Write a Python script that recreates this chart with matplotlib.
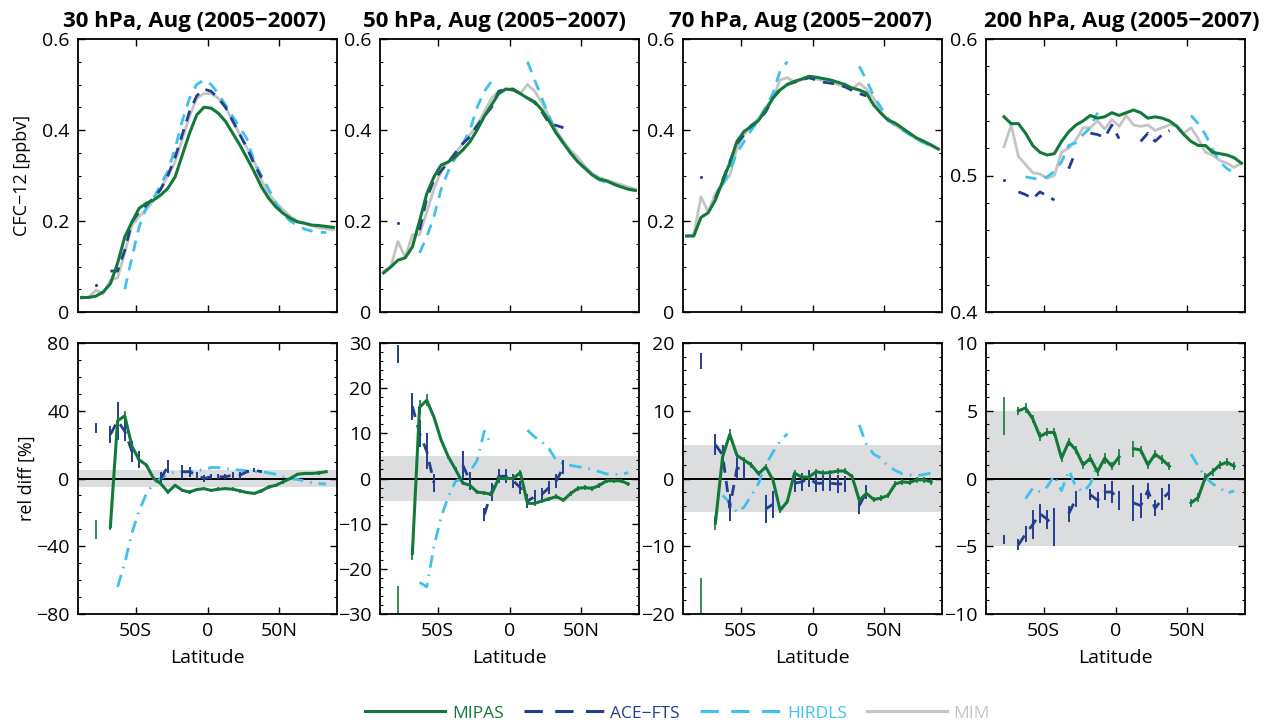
import numpy as np
import matplotlib
matplotlib.use("Agg")
import matplotlib.pyplot as plt
from matplotlib.lines import Line2D
from matplotlib.ticker import AutoMinorLocator

nan = np.nan

# latitude bin centres (deg)
lat = np.arange(-87.5, 90, 5.0)

pressures = [30, 50, 70, 200]

# ---- CFC-12 [ppbv], top row ----
mipas_30 = [0.032, 0.032, 0.035, 0.044, 0.062, 0.107, 0.165, 0.198, 0.228, 0.239, 0.246, 0.257, 0.272, 0.297, 0.345, 0.393, 0.433, 0.450,
            0.448, 0.437, 0.419, 0.393, 0.367, 0.338, 0.308, 0.275, 0.250, 0.231, 0.217, 0.206, 0.198, 0.195, 0.191, 0.190, 0.188, 0.186]
mim_30 = [0.030, 0.033, 0.048, 0.040, 0.070, 0.075, 0.130, 0.190, 0.210, 0.225, 0.245, 0.270, 0.300, 0.330, 0.380, 0.430, 0.470, 0.480,
          0.480, 0.470, 0.450, 0.420, 0.390, 0.360, 0.330, 0.290, 0.260, 0.240, 0.225, 0.210, 0.200, 0.195, 0.190, 0.185, 0.183, 0.180]
ace_30 = [nan, nan, 0.060, nan, 0.090, 0.090, 0.136, 0.198, 0.220, 0.235, 0.250, 0.270, 0.300, 0.340, 0.390, 0.440, 0.475, 0.490,
          0.485, 0.470, 0.450, 0.420, 0.390, 0.360, 0.325, 0.295, nan, nan, nan, nan, nan, nan, nan, nan, nan, nan]
hirdls_30 = [nan, nan, nan, nan, nan, nan, 0.050, 0.120, 0.187, 0.230, 0.250, 0.280, 0.310, 0.360, 0.420, 0.470, 0.500, 0.510,
             0.500, 0.480, 0.455, 0.430, 0.405, 0.380, 0.330, 0.300, 0.270, 0.240, 0.215, 0.200, 0.190, 0.182, 0.178, 0.175, 0.175, nan]

mipas_50 = [0.086, 0.099, 0.114, 0.119, 0.143, 0.200, 0.260, 0.297, 0.323, 0.330, 0.341, 0.356, 0.374, 0.400, 0.430, 0.455, 0.480, 0.490,
            0.488, 0.480, 0.470, 0.462, 0.444, 0.420, 0.393, 0.371, 0.349, 0.330, 0.316, 0.301, 0.292, 0.288, 0.281, 0.275, 0.270, 0.267]
mim_50 = [0.090, 0.100, 0.155, 0.120, 0.170, 0.170, 0.220, 0.270, 0.310, 0.330, 0.350, 0.370, 0.390, 0.410, 0.440, 0.470, 0.485, 0.490,
          0.490, 0.480, 0.500, 0.485, 0.460, 0.430, 0.400, 0.375, 0.355, 0.340, 0.320, 0.305, 0.295, 0.290, 0.285, 0.280, 0.275, 0.270]
ace_50 = [nan, nan, 0.195, nan, nan, 0.180, 0.250, 0.290, 0.310, 0.330, 0.350, 0.370, 0.385, 0.410, 0.430, 0.450, 0.485, 0.490,
          0.490, 0.480, 0.470, 0.460, 0.440, 0.415, 0.410, 0.405, nan, nan, nan, nan, nan, nan, nan, nan, nan, nan]
hirdls_50 = [nan, nan, nan, nan, nan, 0.130, 0.165, 0.210, 0.270, 0.310, 0.340, 0.370, 0.400, 0.450, 0.485, 0.507, nan, nan,
             nan, nan, 0.550, 0.510, 0.470, 0.430, 0.395, 0.370, 0.350, 0.330, 0.315, 0.300, 0.290, 0.285, 0.280, 0.276, 0.270, nan]

mipas_70 = [0.167, 0.167, 0.208, 0.218, 0.246, 0.287, 0.327, 0.375, 0.397, 0.408, 0.421, 0.444, 0.470, 0.488, 0.500, 0.507, 0.512, 0.518,
            0.516, 0.513, 0.510, 0.505, 0.500, 0.492, 0.488, 0.481, 0.455, 0.437, 0.422, 0.415, 0.404, 0.393, 0.382, 0.375, 0.367, 0.358]
mim_70 = [0.167, 0.170, 0.253, 0.220, 0.260, 0.280, 0.300, 0.360, 0.390, 0.410, 0.425, 0.450, 0.470, 0.510, 0.515, 0.505, 0.510, 0.515,
          0.512, 0.508, 0.505, 0.500, 0.495, 0.490, 0.503, 0.490, 0.470, 0.440, 0.420, 0.410, 0.400, 0.390, 0.380, 0.372, 0.365, 0.358]
ace_70 = [nan, nan, 0.297, nan, 0.250, 0.290, 0.330, 0.370, 0.390, 0.410, 0.420, 0.440, 0.470, 0.490, 0.500, 0.505, 0.510, 0.515,
          0.510, 0.505, 0.503, 0.500, 0.495, 0.487, 0.480, 0.475, nan, nan, nan, nan, nan, nan, nan, nan, nan, nan]
hirdls_70 = [nan, nan, nan, nan, nan, 0.280, 0.310, 0.350, 0.375, 0.400, 0.420, 0.450, 0.480, 0.530, 0.550, nan, nan, nan,
             nan, nan, nan, nan, nan, nan, 0.540, 0.510, 0.475, 0.450, 0.425, 0.410, 0.400, 0.390, 0.380, 0.372, 0.365, nan]

mipas_200 = [nan, nan, 0.543, 0.538, 0.538, 0.531, 0.522, 0.517, 0.515, 0.516, 0.525, 0.532, 0.537, 0.540, 0.544, 0.542, 0.543, 0.546,
             0.544, 0.546, 0.548, 0.546, 0.542, 0.543, 0.542, 0.540, 0.536, 0.530, 0.525, 0.522, 0.522, 0.517, 0.516, 0.515, 0.513, 0.509]
mim_200 = [nan, nan, 0.521, 0.537, 0.514, 0.508, 0.502, 0.501, 0.498, 0.500, 0.517, 0.520, 0.526, 0.535, 0.535, 0.540, 0.534, 0.541,
           0.536, 0.544, 0.537, 0.536, 0.537, 0.533, 0.535, 0.537, 0.537, 0.531, 0.535, 0.527, 0.517, 0.515, 0.511, 0.509, 0.506, 0.509]
ace_200 = [nan, nan, 0.497, nan, 0.488, 0.486, 0.483, 0.488, 0.485, 0.482, nan, 0.505, 0.518, nan, 0.531, 0.530, 0.528, 0.537,
           0.527, nan, nan, 0.525, 0.531, 0.525, 0.530, 0.533, nan, nan, nan, nan, nan, nan, nan, nan, nan, nan]
hirdls_200 = [nan, nan, nan, nan, nan, 0.499, 0.498, 0.497, 0.499, 0.503, 0.510, 0.522, 0.524, 0.530, 0.535, 0.546, nan, nan,
              nan, nan, nan, nan, nan, nan, nan, nan, nan, nan, 0.544, 0.538, 0.530, 0.519, 0.510, 0.505, 0.502, nan]

# ---- relative differences [%], bottom row ----
rel_mipas_30 = [nan, nan, -30, nan, -28.5, 34, 37, 19, 11, 8, 0, -3, -8, -4, -7, -8, -6.5, -6,
                -7, -6.3, -6, -6.3, -7.3, -8.3, -8.8, -7.3, -5, -4, -2, 0, 2.5, 3, 3, 3.3, 4, nan]
err_mipas_30 = [nan, nan, 5.5, nan, 2, 3, 3, 1.5, 1, 1, 1, 1, 1, 1, 1, 1, 1, 1,
                1, 1, 1, 1, 1, 1, 1, 1, 1, 1, 1, 1, 1, 1, 1, 1, 1, nan]
rel_ace_30 = [nan, nan, 30, nan, 26, 34, 28, 16, 11, nan, nan, 0, 7, nan, 4, 4, 2, 0,
              1, 1, 1, 2, 2, 4, 5, 4, nan, nan, nan, nan, nan, nan, nan, nan, nan, nan]
err_ace_30 = [nan, nan, 3, nan, 5, 11, 6, 6, 5, nan, nan, 4, 4, nan, 4, 3, 2, 2,
              1.5, 1.5, 1.5, 2, 2, 1, 1, 1, nan, nan, nan, nan, nan, nan, nan, nan, nan, nan]
rel_hirdls_30 = [nan, nan, nan, nan, nan, -64, -50, -32, -19, -9, -3, 0, 2.5, 4, 4, 4, 5, 5,
                 6.5, 6.5, 6, 5.3, 5, 4.5, 4, 4, 3.3, 2.5, 1, 0, -0.6, -1.4, -2.5, -3, -3.3, nan]

rel_mipas_50 = [nan, nan, -27.3, nan, -16.6, 15.8, 17.3, 13.6, 8.5, 4.8, 2, -1, -1.5, -3, -3.2, -3.5, 0, 0,
                0, 1.3, -5.5, -5.5, -5, -4.5, -4, -4.8, -3.3, -2.2, -2, -2.2, -1.5, -0.5, -0.5, -0.5, -1.2, nan]
err_mipas_50 = [nan, nan, 3.5, nan, 1.5, 1.5, 1.3, 0.5, 0.5, 0.5, 0.5, 0.5, 0.5, 0.5, 0.5, 0.5, 0.5, 0.5,
                0.5, 0.5, 0.5, 0.5, 0.5, 0.5, 0.5, 0.5, 0.5, 0.5, 0.5, 0.5, 0.5, 0.5, 0.5, 0.5, 0.5, nan]
rel_ace_50 = [nan, nan, 27.5, nan, 16, 10, 6, -1, nan, nan, nan, 3, -0.5, nan, -8, -3, 0.5, 0.5,
              -0.5, -2, -5, -4, -3.5, -2, -0.5, 2.5, nan, nan, nan, nan, nan, nan, nan, nan, nan, nan]
err_ace_50 = [nan, nan, 2, nan, 3, 3, 4, 2, nan, nan, nan, 3, 2, nan, 1.5, 2, 1.5, 1.5,
              1.5, 1.5, 1.5, 1.5, 1.5, 1.5, 1.5, 1.5, nan, nan, nan, nan, nan, nan, nan, nan, nan, nan]
rel_hirdls_50 = [nan, nan, nan, nan, nan, -23, -24, -15, -8.5, -4, -0.6, 0, 1.5, 4, 10.5, 7.4, nan, nan,
                 nan, nan, 10.7, 9.2, 8.1, 6.6, 4, 3.3, 2.9, 2.6, 2.4, 2, 1.5, 1, 0.9, 0.9, 1.3, nan]

rel_mipas_70 = [nan, nan, -17.7, nan, -6.6, 3.2, 6.5, 3.4, 2.7, 2, 0.7, 1.7, -0.2, -4.7, -3.4, 0.8, 0.2, 0.2,
                1, 0.8, 0.9, 1.1, 1.1, 0.3, -3.2, -2.2, -3.1, -2.9, -2.5, -0.8, -0.5, -0.6, -0.2, -0.2, -0.5, nan]
err_mipas_70 = [nan, nan, 3, nan, 1, 0.8, 0.8, 0.4, 0.4, 0.4, 0.4, 0.4, 0.4, 0.4, 0.4, 0.4, 0.4, 0.4,
                0.4, 0.4, 0.4, 0.4, 0.4, 0.4, 0.4, 0.4, 0.4, 0.4, 0.4, 0.4, 0.4, 0.4, 0.4, 0.4, 0.4, nan]
rel_ace_70 = [nan, nan, 17.3, nan, 5, 3.5, -4.3, 1.5, 1.5, nan, nan, -4.5, -3.8, nan, nan, -0.7, -0.5, 0,
              -0.7, -0.7, -0.7, -0.8, -0.8, nan, -4, -2, nan, nan, nan, nan, nan, nan, nan, nan, nan, nan]
err_ace_70 = [nan, nan, 1.2, nan, 1.5, 1.5, 2, 1.5, 1.5, nan, nan, 2, 2, nan, nan, 1.3, 1.3, 1.2,
              1.3, 1.2, 1.2, 1.3, 1.2, nan, 1.2, 1, nan, nan, nan, nan, nan, nan, nan, nan, nan, nan]
rel_hirdls_70 = [nan, nan, nan, nan, nan, -2.5, -3.5, -5, -4.2, -2.5, -0.7, 2, 3.9, 5.5, 6.6, nan, nan, nan,
                 nan, nan, nan, nan, nan, nan, 7.9, 5, 3.6, 3, 1.8, 1.2, 0.7, 0.5, 0.4, 0.6, 0.8, nan]

rel_mipas_200 = [nan, nan, 4.6, nan, 5.0, 5.2, 4.4, 3.1, 3.4, 3.4, 1.5, 2.7, 2.1, 1.0, 1.5, 0.5, 1.5, 0.9,
                 1.6, nan, 2.2, 2.1, 1.0, 1.8, 1.4, 0.9, nan, nan, -1.8, -1.4, 0.1, 0.5, 1.0, 1.2, 0.9, nan]
err_mipas_200 = [nan, nan, 1.4, nan, 0.3, 0.4, 0.3, 0.3, 0.3, 0.3, 0.3, 0.3, 0.3, 0.3, 0.3, 0.3, 0.4, 0.3,
                 0.6, nan, 0.6, 0.3, 0.3, 0.3, 0.3, 0.3, nan, nan, 0.3, 0.3, 0.3, 0.3, 0.3, 0.3, 0.3, nan]
rel_ace_200 = [nan, nan, -4.5, nan, -4.9, -4.1, -3.4, -2.6, -3.0, -3.6, nan, -2.6, -1.5, nan, -1.2, -1.6, -1.0, -1.0,
               -1.6, nan, -1.8, -2.0, -0.9, -2.2, -1.5, -1.0, nan, nan, nan, nan, nan, nan, nan, nan, nan, nan]
err_ace_200 = [nan, nan, 0.3, nan, 0.4, 0.6, 1.1, 0.7, 0.7, 1.4, nan, 0.6, 0.6, nan, 0.4, 0.6, 0.6, 0.8,
               0.7, nan, 1.3, 0.9, 0.6, 0.6, 0.8, 0.6, nan, nan, nan, nan, nan, nan, nan, nan, nan, nan]
rel_hirdls_200 = [nan, nan, nan, nan, nan, -1.5, -0.7, -1, -0.6, 0.2, -0.9, 0.6, -0.6, -1, -0.4, 1.1, nan, nan,
                  nan, nan, nan, nan, nan, nan, nan, nan, nan, nan, 1.8, 0.9, 0.1, -0.4, -0.7, -1.1, -0.9, nan]

top_data = {30: (mipas_30, ace_30, hirdls_30, mim_30), 50: (mipas_50, ace_50, hirdls_50, mim_50),
            70: (mipas_70, ace_70, hirdls_70, mim_70), 200: (mipas_200, ace_200, hirdls_200, mim_200)}
bottom_data = {30: (rel_mipas_30, err_mipas_30, rel_ace_30, err_ace_30, rel_hirdls_30),
               50: (rel_mipas_50, err_mipas_50, rel_ace_50, err_ace_50, rel_hirdls_50),
               70: (rel_mipas_70, err_mipas_70, rel_ace_70, err_ace_70, rel_hirdls_70),
               200: (rel_mipas_200, err_mipas_200, rel_ace_200, err_ace_200, rel_hirdls_200)}

top_ylim = {30: (0, 0.6), 50: (0, 0.6), 70: (0, 0.6), 200: (0.4, 0.6)}
top_yticks = {30: [0, 0.2, 0.4, 0.6], 50: [0, 0.2, 0.4, 0.6], 70: [0, 0.2, 0.4, 0.6], 200: [0.4, 0.5, 0.6]}
bottom_ylim = {30: 80, 50: 30, 70: 20, 200: 10}
bottom_ystep = {30: 40, 50: 10, 70: 10, 200: 5}

C_MIPAS = "#13793a"
C_ACE = "#233e8f"
C_HIRDLS = "#3ec1ee"
C_MIM = "#c4c4c4"

plt.rcParams['font.family'] = ['Open Sans', 'DejaVu Sans']
plt.rcParams['font.size'] = 14


def plot_series(ax, x, y, **kw):
    """line plus a small dot for points with no finite neighbour"""
    y = np.asarray(y, dtype=float)
    ax.plot(x, y, **kw)
    ok = np.isfinite(y)
    left = np.r_[False, ok[:-1]]
    right = np.r_[ok[1:], False]
    lone = ok & ~left & ~right
    if lone.any():
        ax.plot(x[lone], y[lone], 'o', color=kw.get('color'), ms=2.2, mec='none')


def style_axis(ax):
    ax.set_xlim(-90, 90)
    ax.set_xticks([-50, 0, 50])
    ax.tick_params(direction='in', top=True, right=True, length=5, width=1, labelsize=14, pad=6)
    ax.tick_params(which='minor', direction='in', right=True, length=2.5, width=0.8)
    ax.yaxis.set_minor_locator(AutoMinorLocator())
    for s in ax.spines.values():
        s.set_linewidth(1.3)


fig = plt.figure(figsize=(12.64, 7.27), dpi=100)
W, H = 1264.0, 727.0
lefts = [78, 380, 683, 986]
title_x = [0.448, 0.44, 0.455, 0.525]

for i, p in enumerate(pressures):
    axt = fig.add_axes([lefts[i] / W, 1 - 312 / H, 259 / W, 273 / H])
    axb = fig.add_axes([lefts[i] / W, 1 - 614 / H, 259 / W, 271 / H])

    mipas, ace, hirdls, mim = top_data[p]
    plot_series(axt, lat, mim, color=C_MIM, lw=2.0)
    plot_series(axt, lat, hirdls, color=C_HIRDLS, lw=2.0, dashes=(4.0, 3.0))
    plot_series(axt, lat, ace, color=C_ACE, lw=2.0, dashes=(4.0, 3.0))
    plot_series(axt, lat, mipas, color=C_MIPAS, lw=2.2)
    axt.set_ylim(*top_ylim[p])
    axt.set_yticks(top_yticks[p])
    axt.set_yticklabels([f"{v:g}" for v in top_yticks[p]])
    style_axis(axt)
    axt.set_xticklabels([])
    axt.set_title(f"{p} hPa, Aug (2005\u22122007)", fontsize=16, fontweight='bold', x=title_x[i], pad=9)

    rm, em, ra, ea, rh = bottom_data[p]
    lim = bottom_ylim[p]
    axb.axhspan(-5, 5, color="#dcddde", lw=0, zorder=0)
    axb.axhline(0, color='k', lw=1.4, zorder=1)
    plot_series(axb, lat, rh, color=C_HIRDLS, lw=2.0, dashes=(4.5, 2.5, 0.6, 2.5))
    axb.errorbar(lat, ra, yerr=ea, fmt='none', ecolor=C_ACE, elinewidth=1.4, capsize=0)
    axb.plot(lat, ra, color=C_ACE, lw=2.0, dashes=(4.0, 3.0))
    axb.errorbar(lat, rm, yerr=em, fmt='none', ecolor=C_MIPAS, elinewidth=1.2, capsize=0)
    axb.plot(lat, rm, color=C_MIPAS, lw=2.2)
    axb.set_ylim(-lim, lim)
    axb.set_yticks(np.arange(-lim, lim + 0.1, bottom_ystep[p]))
    style_axis(axb)
    axb.set_xticklabels(['50S', '0', '50N'])
    axb.set_xlabel('Latitude', fontsize=14, labelpad=6)

    if i == 0:
        axt.set_ylabel('CFC\u221212 [ppbv]', fontsize=13, labelpad=8)
        axb.set_ylabel('rel diff [%]', fontsize=13, labelpad=0)

handles = [Line2D([], [], color=C_MIPAS, lw=2.2),
           Line2D([], [], color=C_ACE, lw=2.2, dashes=(6.0, 4.05)),
           Line2D([], [], color=C_HIRDLS, lw=2.2, dashes=(6.0, 4.05)),
           Line2D([], [], color=C_MIM, lw=2.2)]
labels = ['MIPAS', 'ACE\u2212FTS', 'HIRDLS', 'MIM']
leg = fig.legend(handles, labels, loc='lower center', bbox_to_anchor=(0.536, -0.014), ncol=4, frameon=False,
                 handlelength=4.6, handletextpad=0.4, columnspacing=1.15, fontsize=12.5)
for txt, c in zip(leg.get_texts(), [C_MIPAS, C_ACE, C_HIRDLS, C_MIM]):
    txt.set_color(c)

fig.savefig('out.png', dpi=100)
